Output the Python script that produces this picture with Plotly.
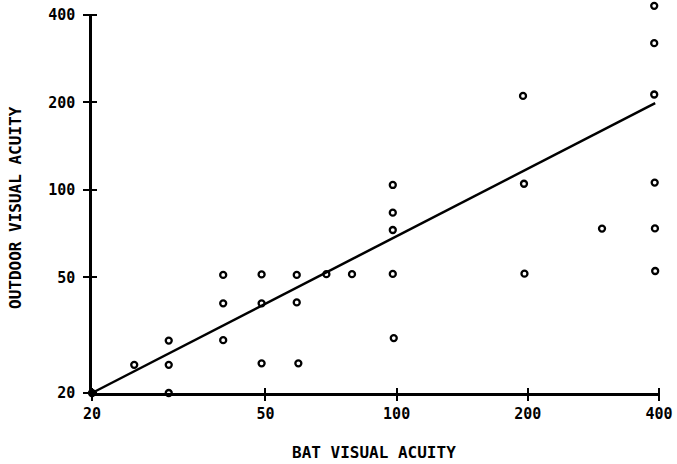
import math
import plotly.graph_objects as go

# Bat visual acuity (x) vs outdoor visual acuity (y)
bat_acuity = [20, 25, 30, 30, 30, 40, 40, 40, 49, 49, 49, 59, 59, 59.5, 69, 79,
              98, 98, 98, 98, 98.5, 195, 196, 196.5, 296, 390, 390, 390, 391, 391.5, 392]
outdoor_acuity = [20, 25, 30.3, 25, 20, 51, 40.7, 30.4, 51.2, 40.7, 25.3, 51, 41, 25.3, 51.3, 51.3,
                  104, 83.5, 72.8, 51.4, 30.9, 210.6, 105, 51.5, 73.6, 430, 320, 213, 106, 73.7, 52.6]

# Fitted line end points
fit_x = [20, 392]
fit_y = [20, 199]

tick_vals = [20, 50, 100, 200, 400]
tick_text = ["20", "50", "100", "200", "400"]

x_title = "BAT VISUAL ACUITY"
y_title = "OUTDOOR VISUAL ACUITY"

FONT = "DejaVu Sans Mono"

W, H = 677, 464
ML, MR, MT, MB = 80, 10, 3, 60
PW, PH = W - ML - MR, H - MT - MB
# pixel frame of the visible axes
AX_L, AX_R, AX_T, AX_B = 92, 659, 15, 393

lo, hi = math.log10(20), math.log10(400)
kx = (hi - lo) / (AX_R - AX_L)
ky = (hi - lo) / (AX_B - AX_T)
data_xr = [lo - (AX_L - ML) * kx, hi + (W - MR - AX_R) * kx]
data_yr = [lo - (H - MB - AX_B) * ky, hi + (AX_T - MT) * ky]
dom_x = [(AX_L - ML) / PW, (AX_R - ML) / PW]
dom_y = [(H - MB - AX_B) / PH, (H - MB - AX_T) / PH]

fig = go.Figure()
# invisible holders for the axis subplots
fig.add_trace(go.Scatter(x=[100], y=[100], mode="markers", marker=dict(opacity=0),
                         xaxis="x2", yaxis="y2", hoverinfo="skip", showlegend=False))
fig.add_trace(go.Scatter(x=[100], y=[100], mode="markers", marker=dict(opacity=0),
                         xaxis="x3", yaxis="y3", hoverinfo="skip", showlegend=False))
fig.add_trace(go.Scatter(x=fit_x, y=fit_y, mode="lines",
                         line=dict(color="black", width=2.5),
                         hoverinfo="skip", showlegend=False))
fig.add_trace(go.Scatter(x=bat_acuity, y=outdoor_acuity, mode="markers",
                         marker=dict(symbol="circle-open", size=6,
                                     line=dict(color="black", width=2.3), color="black"),
                         cliponaxis=False, showlegend=False))

common = dict(type="log", showgrid=False, zeroline=False, tickvals=tick_vals,
              ticktext=tick_text, tickcolor="black", tickwidth=2.2, automargin=False)
hidden = dict(type="log", visible=False, showgrid=False, zeroline=False, automargin=False)
tf = dict(family=FONT, size=15, weight="bold", color="black")

fig.update_layout(
    width=W, height=H,
    margin=dict(l=ML, r=MR, t=MT, b=MB),
    paper_bgcolor="white", plot_bgcolor="rgba(0,0,0,0)",
    font=dict(family=FONT, color="black", size=15, weight="bold"),
    # data axes (full plot area, hidden)
    xaxis=dict(range=data_xr, domain=[0, 1], anchor="y", **hidden),
    yaxis=dict(range=data_yr, domain=[0, 1], anchor="x", **hidden),
    # visible axes
    xaxis2=dict(range=[lo, hi], domain=dom_x, anchor="y2", showline=True,
                linecolor="black", linewidth=2.5, ticks="outside", ticklen=5,
                ticklabelstandoff=0, tickfont=tf, **common),
    yaxis2=dict(range=[lo, hi], domain=dom_y, anchor="x2", showline=True,
                linecolor="black", linewidth=2.5, ticks="outside", ticklen=6,
                ticklabelstandoff=5, tickfont=tf, **common),
    # crossing tick marks, drawn by shifted label-less axes
    xaxis3=dict(range=[lo, hi], domain=dom_x, anchor="free", side="bottom",
                position=dom_y[0] + 6 / PH,
                ticks="outside", ticklen=11, showticklabels=False, showline=False, **common),
    yaxis3=dict(range=[lo, hi], domain=dom_y, anchor="free", side="left",
                position=dom_x[0] + 5 / PW,
                ticks="outside", ticklen=12, showticklabels=False, showline=False, **common),
    annotations=[
        dict(text=x_title, xref="paper", yref="paper", x=(374 - ML) / PW,
             y=-(452 - (H - MB)) / PH,
             xanchor="center", yanchor="middle", showarrow=False,
             font=dict(family=FONT, size=16, weight="bold", color="black")),
        dict(text=y_title, xref="paper", yref="paper", x=-(ML - 15) / PW,
             y=((H - MB) - 208) / PH,
             xanchor="center", yanchor="middle", showarrow=False, textangle=-90,
             font=dict(family=FONT, size=16, weight="bold", color="black")),
    ],
)

fig.write_html("out.html", config={"displayModeBar": False},
               post_script="document.body.style.margin='0';document.body.style.padding='0';")
